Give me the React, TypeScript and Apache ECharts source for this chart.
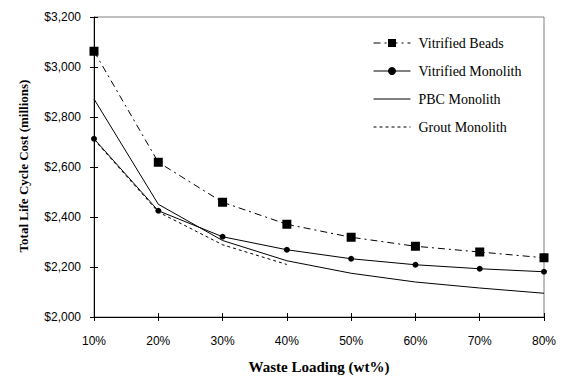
import React, { useEffect, useRef } from "react";
import * as echarts from "echarts";

const categories = ["10%", "20%", "30%", "40%", "50%", "60%", "70%", "80%"];
const vitrifiedBeads = [3063, 2619, 2459, 2371, 2319, 2283, 2260, 2237];
const vitrifiedMonolith = [2713, 2425, 2321, 2269, 2233, 2209, 2193, 2181];
const pbcMonolith = [2872, 2451, 2306, 2225, 2175, 2140, 2116, 2095];
const groutMonolith = [2710, 2420, 2289, 2210, null, null, null, null];
const yTicks = { min: 2000, max: 3200, interval: 200 };

const serif = "'Liberation Serif', 'Times New Roman', serif";
const sans = "'Liberation Sans', Arial, sans-serif";

export default function App() {
  const ref = useRef<HTMLDivElement>(null);
  useEffect(() => {
    if (!ref.current) return;
    const chart = echarts.init(ref.current, null, { renderer: "svg" });
    const fmt = (v: number) => "$" + v.toLocaleString("en-US");
    chart.setOption({
      animation: false,
      backgroundColor: "#ffffff",
      grid: {
        left: 94,
        right: 28,
        top: 17,
        bottom: 59,
        show: true,
        borderColor: "#808080",
        borderWidth: 1,
      },
      xAxis: [
        {
          type: "category",
          data: categories,
          boundaryGap: false,
          axisLine: { lineStyle: { color: "#000", width: 1 } },
          axisTick: { show: true, length: 4, lineStyle: { color: "#000" } },
          axisLabel: { color: "#000", fontFamily: sans, fontSize: 12, margin: 18 },
          splitLine: { show: false },
        },
        {
          type: "category",
          data: categories,
          boundaryGap: false,
          position: "bottom",
          axisLine: { show: false },
          axisTick: { show: true, inside: true, length: 4, lineStyle: { color: "#000" } },
          axisLabel: { show: false },
          splitLine: { show: false },
        },
      ],
      yAxis: [
        {
          type: "value",
          min: yTicks.min,
          max: yTicks.max,
          interval: yTicks.interval,
          axisLine: { show: true, lineStyle: { color: "#000", width: 1 } },
          axisTick: { show: true, length: 4, lineStyle: { color: "#000" } },
          axisLabel: { color: "#000", fontFamily: sans, fontSize: 12, margin: 13, formatter: fmt },
          splitLine: { show: false },
        },
        {
          type: "value",
          min: yTicks.min,
          max: yTicks.max,
          interval: yTicks.interval,
          position: "left",
          axisLine: { show: false },
          axisTick: { show: true, inside: true, length: 4, lineStyle: { color: "#000" } },
          axisLabel: { show: false },
          splitLine: { show: false },
        },
      ],
      legend: {
        left: 368,
        top: 30,
        orient: "vertical",
        itemWidth: 37,
        itemHeight: 10,
        itemGap: 12,
        lineStyle: { width: 1 },
        textStyle: { fontFamily: serif, fontSize: 14, color: "#000", padding: [0, 0, 0, 3], lineHeight: 16 },
        data: [
          { name: "Vitrified Beads" },
          { name: "Vitrified Monolith" },
          { name: "PBC Monolith", itemStyle: { opacity: 0 } },
          { name: "Grout Monolith", itemStyle: { opacity: 0 } },
        ],
      },
      graphic: [
        {
          type: "text",
          x: 23,
          y: 166,
          rotation: Math.PI / 2,
          style: {
            text: "Total Life Cycle Cost (millions)",
            fontFamily: serif,
            fontWeight: "bold",
            fontSize: 13,
            fill: "#000",
            align: "center",
            verticalAlign: "middle",
          },
        },
        {
          type: "text",
          x: 319,
          y: 367,
          style: {
            text: "Waste Loading (wt%)",
            fontFamily: serif,
            fontWeight: "bold",
            fontSize: 15,
            fill: "#000",
            align: "center",
            verticalAlign: "middle",
          },
        },
      ],
      series: [
        {
          name: "Vitrified Beads",
          type: "line",
          data: vitrifiedBeads,
          symbol: "rect",
          symbolSize: 9,
          itemStyle: { color: "#000" },
          lineStyle: { color: "#000", width: 1, type: [7, 4, 2, 4] },
          z: 5,
        },
        {
          name: "Vitrified Monolith",
          type: "line",
          data: vitrifiedMonolith,
          symbol: "circle",
          symbolSize: 6,
          itemStyle: { color: "#000" },
          lineStyle: { color: "#000", width: 1 },
          z: 4,
        },
        {
          name: "PBC Monolith",
          type: "line",
          data: pbcMonolith,
          symbol: "none",
          itemStyle: { color: "#000" },
          lineStyle: { color: "#000", width: 1 },
          z: 3,
        },
        {
          name: "Grout Monolith",
          type: "line",
          data: groutMonolith,
          symbol: "none",
          connectNulls: false,
          itemStyle: { color: "#000" },
          lineStyle: { color: "#000", width: 1, type: [3, 3] },
          z: 2,
        },
      ],
    });
    return () => chart.dispose();
  }, []);
  return <div ref={ref} style={{ width: 572, height: 376, position: "absolute", left: 0, top: 0 }} />;
}
